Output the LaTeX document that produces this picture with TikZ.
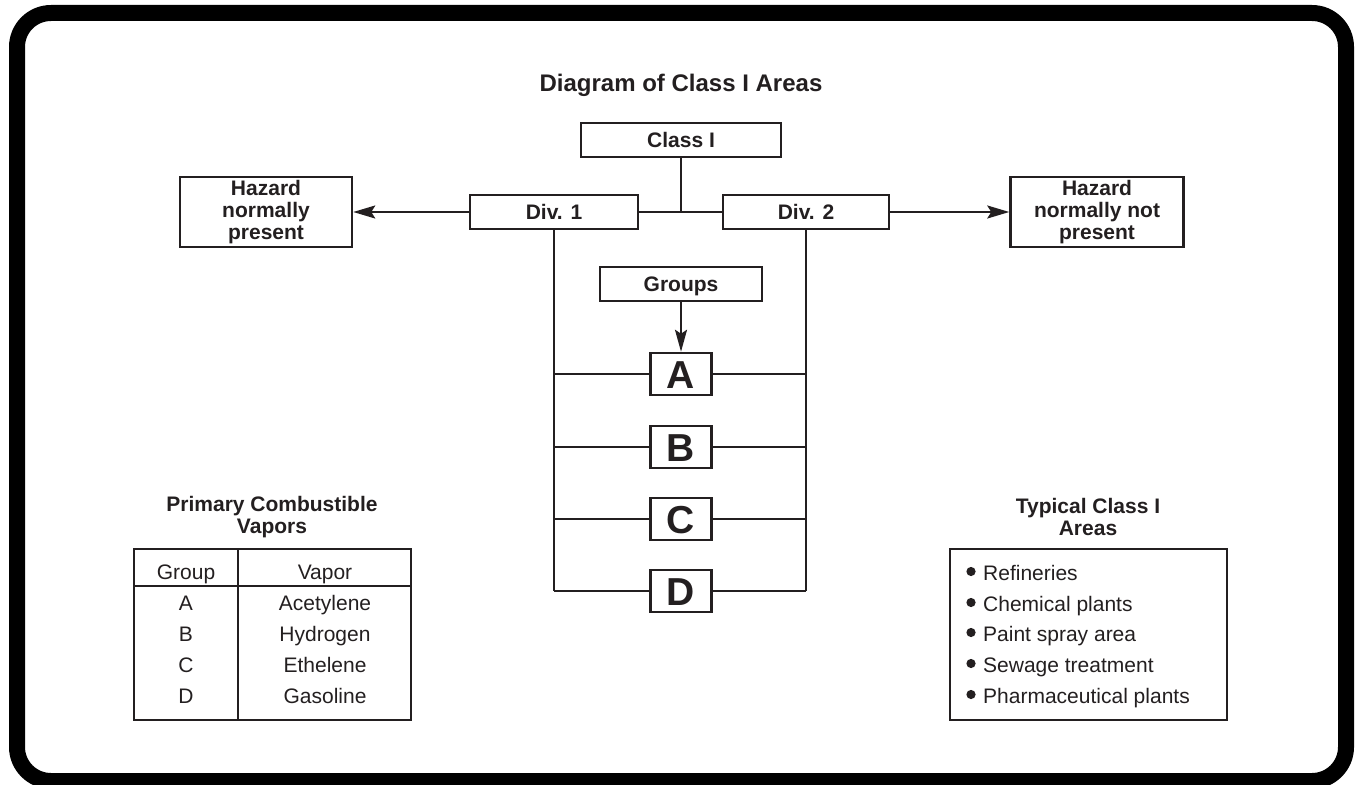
\documentclass[tikz,border=0pt]{standalone}
\usepackage{fontspec}
\setmainfont{Liberation Sans}
\usetikzlibrary{arrows.meta}

\definecolor{inkgray}{HTML}{231F20}

\tikzset{
	box/.style={draw=inkgray,line width=2.5pt,fill=white,inner sep=0pt,
		text=inkgray,font=\bfseries\fontsize{21}{22}\selectfont,align=center},
	onebox/.style={box,text height=15pt,text depth=0pt},
	grpbox/.style={draw=inkgray,line width=2.5pt,fill=white,inner sep=0pt,
		minimum width=61pt,minimum height=42pt,text=inkgray,
		font=\bfseries\fontsize{39}{40}\selectfont,text height=28pt,text depth=0pt},
	link/.style={draw=inkgray,line width=2.3pt},
	arrow/.style={link,-{Stealth[length=22pt,width=13pt,inset=4pt]}},
	head/.style={text=inkgray,font=\bfseries\fontsize{21}{22}\selectfont,align=center},
	txt/.style={text=inkgray,font=\fontsize{21}{22}\selectfont,inner sep=0pt}
}

\begin{document}
\begin{tikzpicture}[x=1pt,y=-1pt]

\def\LINECOLOR{inkgray}
	\useasboundingbox (0,0) rectangle (1356,784);
	% outer frame
	\draw[black,line width=16pt,rounded corners=34pt] (17,13) rectangle (1346,781);

	\node[text=inkgray,font=\bfseries\fontsize{24}{26}\selectfont] (title) at (681,85) {Diagram of Class I Areas};

	% class and divisions
	\node[onebox,minimum width=200pt,minimum height=34pt] (classI) at (681,140) {Class I};
	\node[onebox,minimum width=168pt,minimum height=34pt] (div1) at (554,212) {Div. 1};
	\node[onebox,minimum width=166pt,minimum height=34pt] (div2) at (806,212) {Div. 2};
	\node[box,minimum width=172pt,minimum height=70pt] (haz1) at (266,212) {Hazard\\normally\\present};
	\node[box,minimum width=173pt,minimum height=70pt] (haz2) at (1097,212) {Hazard\\normally not\\present};
	\coordinate (jn) at (classI.south |- div1.east);

	\draw[link] (classI.south) -- (jn);
	\draw[link] (div1.east) -- (div2.west);
	\draw[arrow] (div1.west) -- (haz1.east);
	\draw[arrow] (div2.east) -- (haz2.west);

	% groups
	\node[onebox,minimum width=162pt,minimum height=34pt] (groups) at (681,284) {Groups};
	\foreach \g/\yy in {A/374,B/447,C/519,D/591}{
		\node[grpbox] (\g) at (681,\yy) {\g};
		\draw[link] (div1.south |- \g) -- (\g.west);
		\draw[link] (\g.east) -- (div2.south |- \g);
	}
	\draw[link] (div1.south) -- (div1.south |- D);
	\draw[link] (div2.south) -- (div2.south |- D);
	\draw[arrow,-{Stealth[length=22pt,width=12pt,inset=4pt]}] (groups.south) -- (A.north);

	% vapor table
	\node[head] (vaptitle) at (272,517) {Primary Combustible\\Vapors};
	\draw[link,line width=2.5pt] (134,549) rectangle (411,720);
	\draw[link,line width=2.5pt] (238,549) -- (238,720);
	\draw[link,line width=2.5pt] (134,586) -- (411,586);
	\node[txt,anchor=base] (hgroup) at (186,579) {Group};
	\node[txt,anchor=base] (hvapor) at (325,579) {Vapor};
	\foreach \g/\v/\yy in {A/Acetylene/610,B/Hydrogen/641,C/Ethelene/672,D/Gasoline/703}{
		\node[txt,anchor=base] (g\g) at (186,\yy) {\g};
		\node[txt,anchor=base] (v\g) at (325,\yy) {\v};
	}

	% typical areas
	\node[head] (areatitle) at (1088,517) {Typical Class I\\Areas};
	\draw[link,line width=2.5pt] (950,549) rectangle (1227,720);
	\foreach \a/\yy in {Refineries/580,Chemical plants/611,Paint spray area/641,Sewage treatment/672,Pharmaceutical plants/703}{
		\fill[\LINECOLOR] (971,\yy-8.5) circle (4.6);
		\node[txt,anchor=base west] at (983,\yy) {\a};
	}

\end{tikzpicture}
\end{document}
